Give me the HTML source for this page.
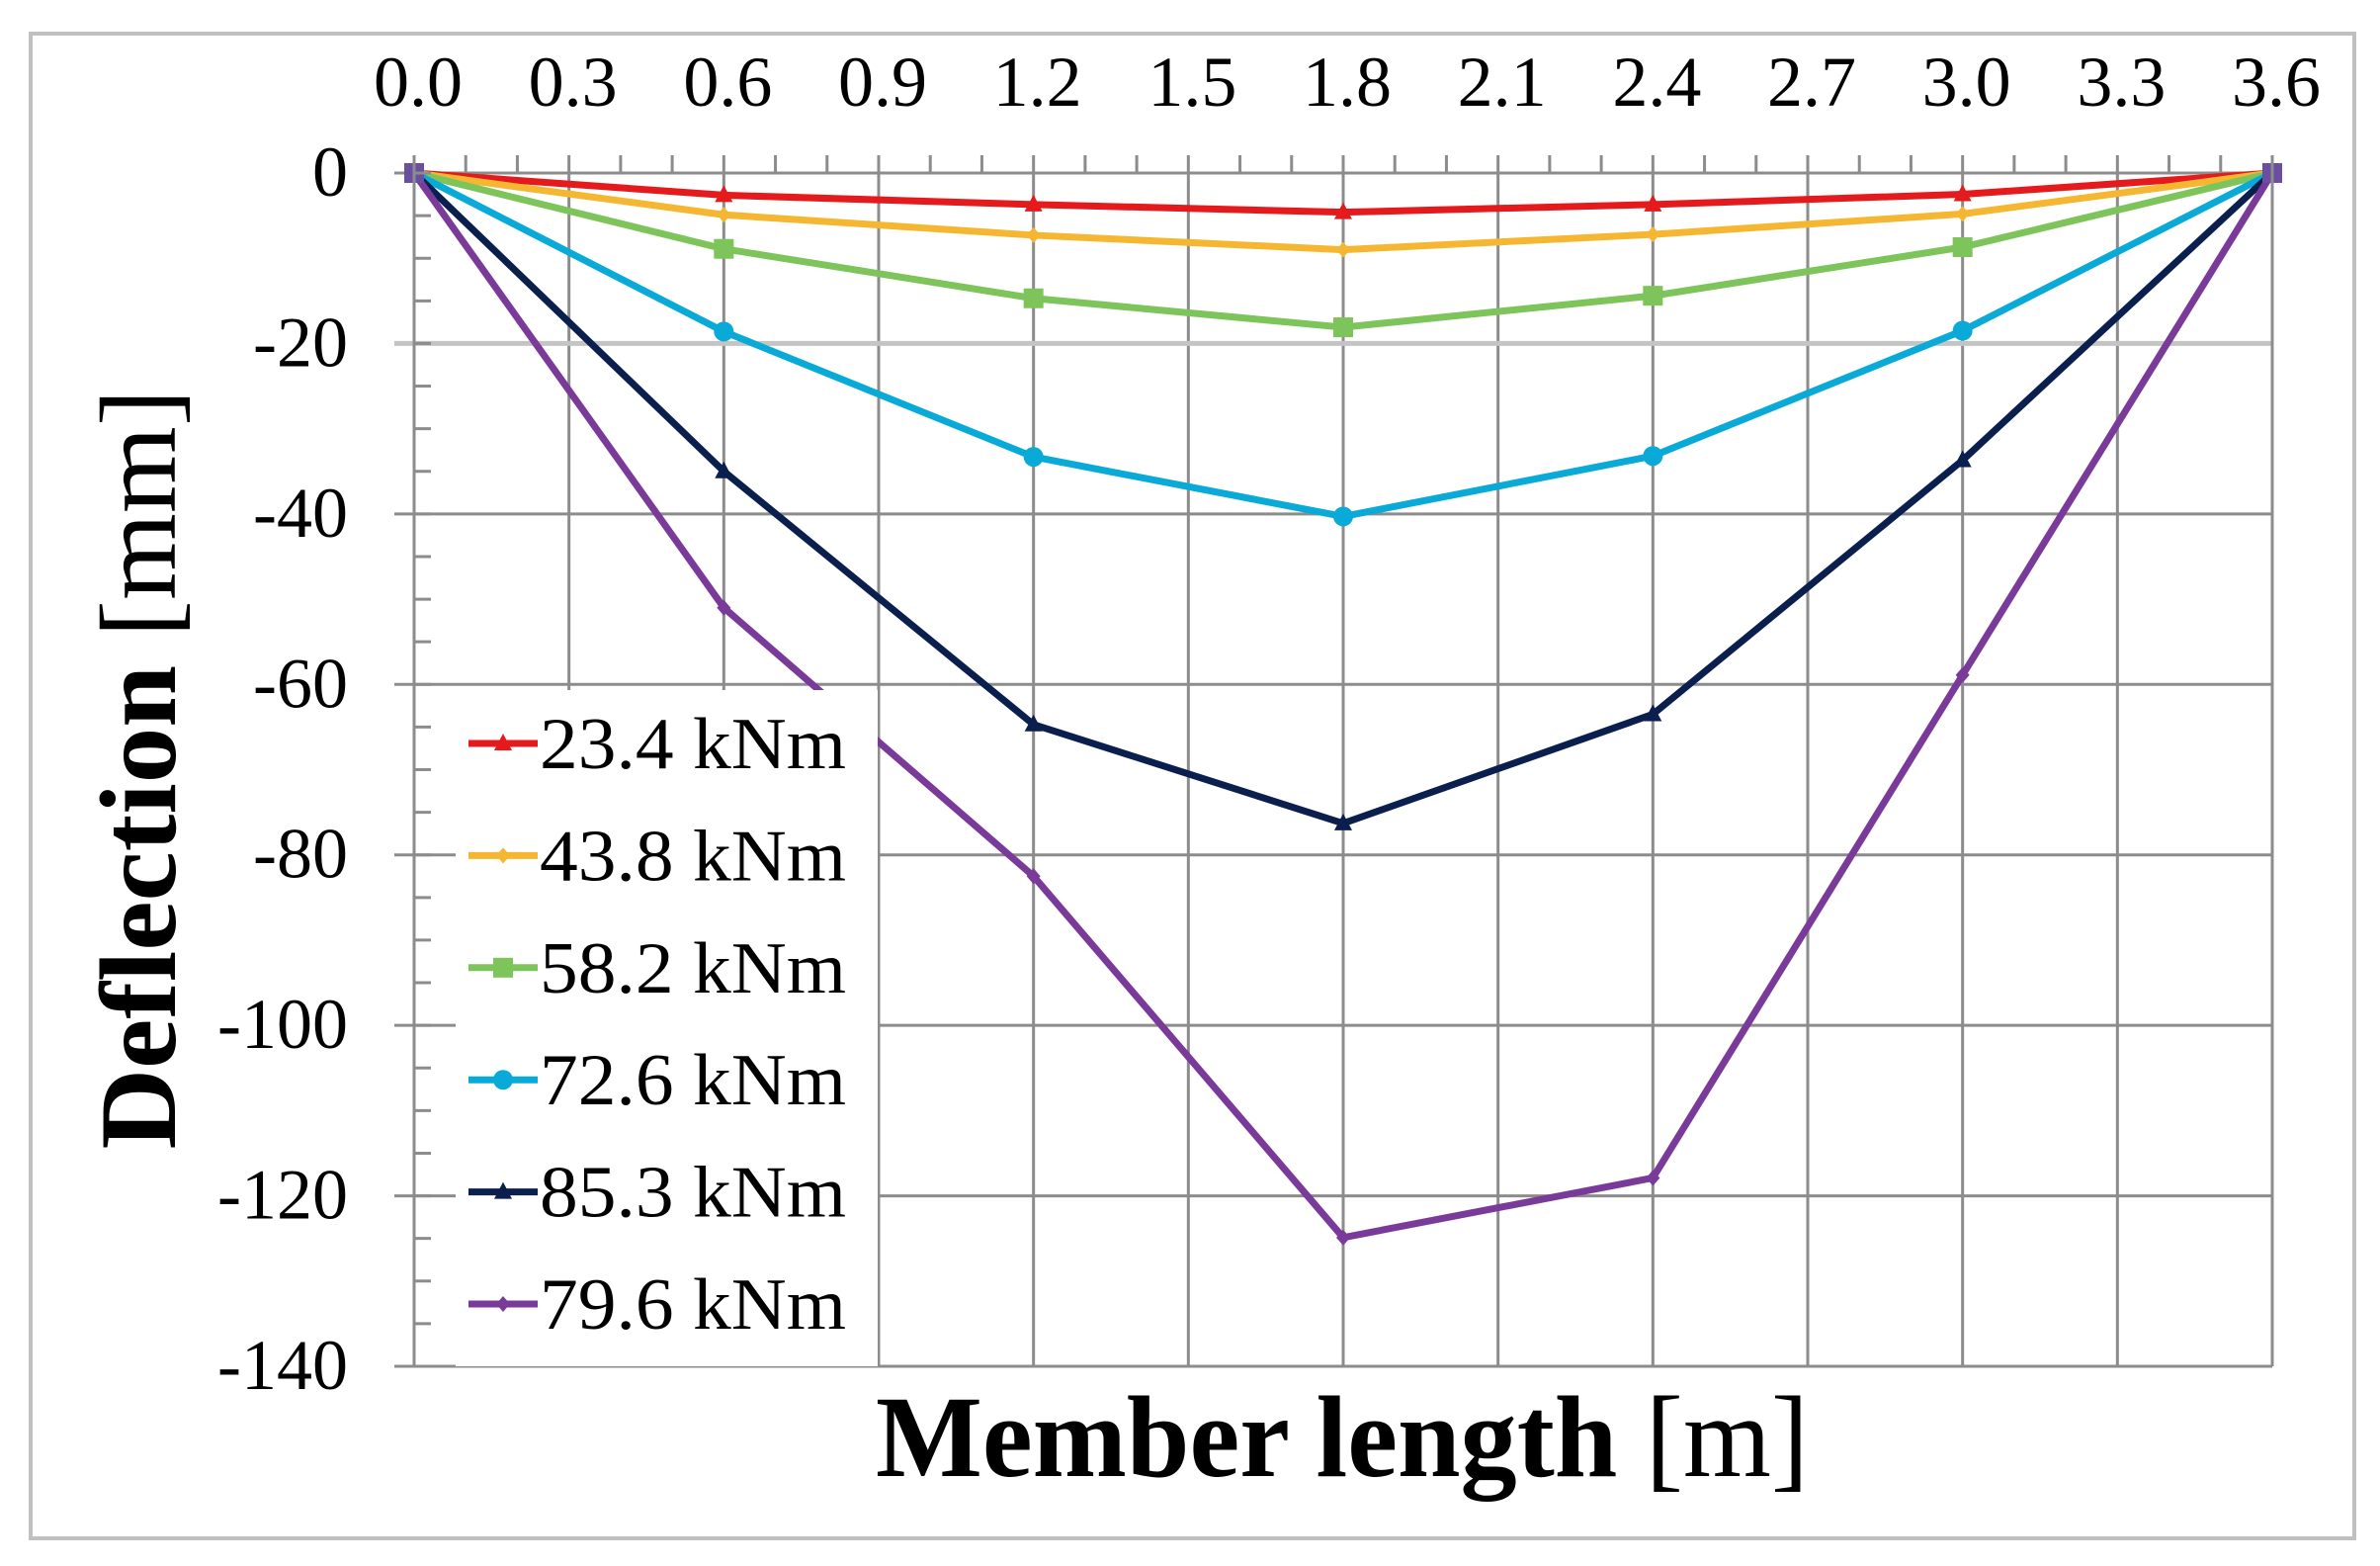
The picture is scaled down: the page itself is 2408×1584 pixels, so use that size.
<!DOCTYPE html>
<html><head><meta charset="utf-8"><style>
html,body{margin:0;padding:0;background:#fff;}
svg{display:block;font-family:"Liberation Serif",serif;}
</style></head><body>
<svg id="chart" width="2408" height="1584" viewBox="0 0 2408 1584">
<rect x="31" y="34" width="2351" height="1522" fill="#fff" stroke="#c0c0c0" stroke-width="4"/>
<g id="grid"></g>
<g id="series"></g>
<g id="axes"></g>
<g id="legend"></g>
<text x="1358" y="1493" text-anchor="middle" font-size="118" textLength="944" lengthAdjust="spacingAndGlyphs"><tspan font-weight="bold">Member length</tspan> [m]</text>
<text transform="translate(177,778) rotate(-90)" text-anchor="middle" font-size="110" textLength="769" lengthAdjust="spacingAndGlyphs"><tspan font-weight="bold">Deflection</tspan> [mm]</text>
</svg>
<script>
const xCategories = [0, 0.6, 1.2, 1.8, 2.4, 3.0, 3.6];
const xTickLabels = ["0.0","0.3","0.6","0.9","1.2","1.5","1.8","2.1","2.4","2.7","3.0","3.3","3.6"];
const yTickLabels = ["0","-20","-40","-60","-80","-100","-120","-140"];
const seriesNames = ["23.4 kNm","43.8 kNm","58.2 kNm","72.6 kNm","85.3 kNm","79.6 kNm"];
const s234 = [0, -2.6, -3.7, -4.6, -3.7, -2.5, 0];
const s438 = [0, -4.9, -7.3, -9.0, -7.2, -4.8, 0];
const s582 = [0, -8.9, -14.7, -18.1, -14.4, -8.7, 0];
const s726 = [0, -18.6, -33.3, -40.3, -33.2, -18.5, 0];
const s853 = [0, -35.0, -64.7, -76.3, -63.5, -33.7, 0];
const s796 = [0, -51.0, -82.5, -124.9, -117.9, -58.9, 0];

const NS="http://www.w3.org/2000/svg";
const L=419,R=2299,T=175,B=1382;
const X0=0,X1=3.6,Y0=0,Y1=-140;
function sx(v){return L+(v-X0)/(X1-X0)*(R-L);}
function sy(v){return T+(v-Y0)/(Y1-Y0)*(B-T);}
function mk(tag,attrs,parent){const e=document.createElementNS(NS,tag);for(const k in attrs)e.setAttribute(k,attrs[k]);parent.appendChild(e);return e;}
const grid=document.getElementById('grid'),axes=document.getElementById('axes'),ser=document.getElementById('series'),leg=document.getElementById('legend');

xTickLabels.forEach((lab,i)=>{
  const v=parseFloat(lab);const x=sx(v);
  const g=mk('line',{x1:x,y1:T,x2:x,y2:B,stroke:'#8c8c8c','stroke-width':3},grid);
  
  
  const t=mk('text',{x:x+4,y:107,'text-anchor':'middle','font-size':72},axes);
  t.textContent=lab;
  
  
});
for(let i=0;i<=36;i++){
  const x=sx(i*0.1);
  const m=mk('line',{x1:x,y1:T-18,x2:x,y2:T,stroke:'#8c8c8c','stroke-width':3},axes);
  
  
}
yTickLabels.forEach((lab)=>{
  const v=parseFloat(lab);const y=sy(v);
  const g=mk('line',{x1:L-20,y1:y,x2:R,y2:y,stroke:(v===-20?'#c4c4c4':'#8c8c8c'),'stroke-width':(v===-20?5:3)},grid);
  
  
  const t=mk('text',{x:352,y:y+23,'text-anchor':'end','font-size':72},axes);
  t.textContent=lab;
  
  
});
for(let v=0;v>=-140;v-=5){
  const y=sy(v);
  const m=mk('line',{x1:L,y1:y,x2:L+17,y2:y,stroke:'#8c8c8c','stroke-width':3},axes);
  
  
}
const ax=mk('line',{x1:L,y1:T,x2:L,y2:B,stroke:'#8c8c8c','stroke-width':3},axes);


const rb=mk('line',{x1:R,y1:T,x2:R,y2:B,stroke:'#8c8c8c','stroke-width':3},axes);



const allSeries=[s234,s438,s582,s726,s853,s796];
const colors=['#e41a1c','#f5b731','#7dc45a','#0aaad8','#0b1f4f','#7a3a9a'];
const markers=['tri','dia','sq','circ','tri','dia'];
function marker(type,x,y,c,parent,sc){
  sc=sc||1;let e;
  if(type==='tri')e=mk('polygon',{points:`${x},${y-10*sc} ${x-9*sc},${y+7*sc} ${x+9*sc},${y+7*sc}`,fill:c},parent);
  else if(type==='sq')e=mk('rect',{x:x-10*sc,y:y-10*sc,width:20*sc,height:20*sc,fill:c},parent);
  else if(type==='circ')e=mk('circle',{cx:x,cy:y,r:10*sc,fill:c},parent);
  else e=mk('polygon',{points:`${x},${y-8*sc} ${x+7*sc},${y} ${x},${y+8*sc} ${x-7*sc},${y}`,fill:c},parent);
  return e;
}
allSeries.forEach((vals,si)=>{
  const pts=vals.map((v,i)=>sx(xCategories[i])+','+sy(v)).join(' ');
  const pl=mk('polyline',{points:pts,fill:'none',stroke:colors[si],'stroke-width':7,'stroke-linejoin':'round'},ser);
  
  
  vals.forEach((v,i)=>{
    const m=marker(markers[si],sx(xCategories[i]),sy(v),colors[si],ser);
    
    
  });
});
[0,3.6].forEach(v=>{
  const e=mk('rect',{x:sx(v)-10,y:sy(0)-10,width:20,height:20,fill:'#6a4ea0'},ser);
  
  
});
const lb=mk('rect',{x:461,y:698,width:427,height:684,fill:'#fff'},leg);


seriesNames.forEach((nm,i)=>{
  const y=752+i*113.4;
  const l=mk('line',{x1:474,y1:y,x2:544,y2:y,stroke:colors[i],'stroke-width':7},leg);
  
  
  const m=marker(markers[i],509,y,colors[i],leg,1);
  
  
  const t=mk('text',{x:546,y:y+25,'font-size':74,textLength:310,lengthAdjust:'spacingAndGlyphs'},leg);
  t.textContent=nm;
  
  
});
</script>
</body></html>
